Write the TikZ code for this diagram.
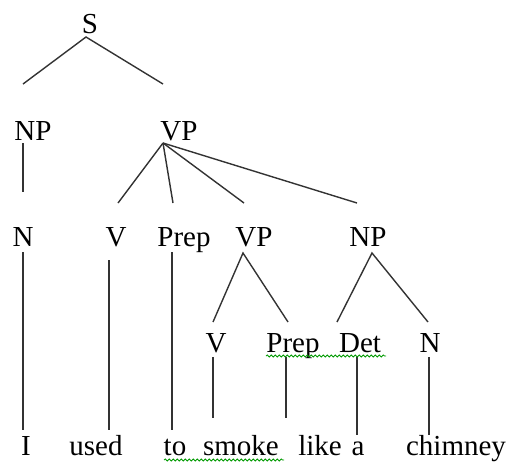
\documentclass[tikz,border=0pt]{standalone}
\usepackage{fontspec}
\setmainfont{Liberation Serif}
\usetikzlibrary{decorations.pathmorphing}
\begin{document}
\begin{tikzpicture}[x=1pt,y=-1pt,
  lbl/.style={anchor=base,inner sep=0pt,font=\fontsize{29}{34}\selectfont},
  edge/.style={draw=black!80,line width=1.4pt},
  wavy/.style={draw=green!60!black,line width=0.8pt,decorate,decoration={snake,segment length=4pt,amplitude=1pt}}]
\useasboundingbox (0,0) rectangle (509,464);
% labels
\node[lbl] (S) at (90,33) {S};
\node[lbl] (NP1) at (33,140) {NP};
\node[lbl] (VP1) at (179,140) {VP};
\node[lbl] (N2) at (23,246) {N};
\node[lbl] (V2) at (116,246) {V};
\node[lbl] (Prep2) at (184,246) {Prep};
\node[lbl] (VP2) at (254,246) {VP};
\node[lbl] (NP2) at (368,246) {NP};
\node[lbl] (V3) at (216,352) {V};
\node[lbl] (Prep3) at (293,352) {Prep};
\node[lbl] (Det3) at (360,352) {Det};
\node[lbl] (N3) at (430,352) {N};
\node[lbl] (wI) at (26,455) {I};
\node[lbl] (wused) at (96,455) {used};
\node[lbl] (wto) at (175,455) {to};
\node[lbl] (wsmoke) at (241,455) {smoke};
\node[lbl] (wlike) at (320,455) {like};
\node[lbl] (wa) at (358,455) {a};
\node[lbl] (wchimney) at (456,455) {chimney};
% connector end points
\coordinate (s0) at (86,37);
\coordinate (s1) at (23,84);
\coordinate (s2) at (163,84);
\coordinate (np1a) at (23,143);
\coordinate (np1b) at (23,192);
\coordinate (vp1) at (163,143);
\coordinate (vp1v) at (118,203);
\coordinate (vp1p) at (173,203);
\coordinate (vp1vp) at (244,203);
\coordinate (vp1np) at (357,203);
\coordinate (n2a) at (23,252);
\coordinate (n2b) at (23,430);
\coordinate (v2a) at (109,260);
\coordinate (v2b) at (109,430);
\coordinate (p2a) at (172,252);
\coordinate (p2b) at (172,430);
\coordinate (vp2) at (243,253);
\coordinate (vp2v) at (213,322);
\coordinate (vp2p) at (288,322);
\coordinate (np2) at (372,253);
\coordinate (np2d) at (337,322);
\coordinate (np2n) at (428,322);
\coordinate (v3a) at (213,357);
\coordinate (v3b) at (213,418);
\coordinate (p3a) at (286,357);
\coordinate (p3b) at (286,418);
\coordinate (d3a) at (357,357);
\coordinate (d3b) at (357,435);
\coordinate (n3a) at (429,357);
\coordinate (n3b) at (429,435);
% connectors
\draw[edge] (s1) -- (s0) -- (s2);
\draw[edge] (np1a) -- (np1b);
\draw[edge] (vp1) -- (vp1v);
\draw[edge] (vp1) -- (vp1p);
\draw[edge] (vp1) -- (vp1vp);
\draw[edge] (vp1) -- (vp1np);
\draw[edge] (n2a) -- (n2b);
\draw[edge] (v2a) -- (v2b);
\draw[edge] (p2a) -- (p2b);
\draw[edge] (vp2v) -- (vp2) -- (vp2p);
\draw[edge] (np2d) -- (np2) -- (np2n);
\draw[edge] (v3a) -- (v3b);
\draw[edge] (p3a) -- (p3b);
\draw[edge] (d3a) -- (d3b);
\draw[edge] (n3a) -- (n3b);
% spell-check underlines
\coordinate (u1a) at (266,356);
\coordinate (u1b) at (386,356);
\coordinate (u2a) at (164,460);
\coordinate (u2b) at (284,460);
\draw[wavy] (u1a) -- (u1b);
\draw[wavy] (u2a) -- (u2b);
\end{tikzpicture}
\end{document}
